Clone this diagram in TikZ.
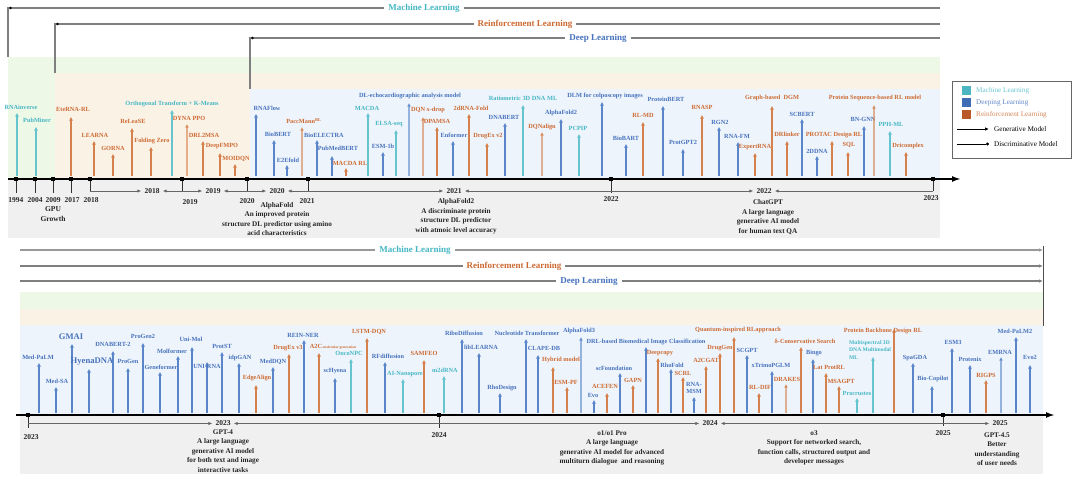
\documentclass[tikz,border=0pt]{standalone}
\usepackage{fontspec}
\setmainfont{Liberation Serif}
\usetikzlibrary{arrows.meta}
\definecolor{mlc}{HTML}{45B7C4}
\definecolor{dlc}{HTML}{4672BD}
\definecolor{rlc}{HTML}{CC6A32}
\definecolor{mls}{HTML}{66C4CF}
\definecolor{dls}{HTML}{5A86C9}
\definecolor{rls}{HTML}{D5814D}
\definecolor{gband}{HTML}{EEF8E7}
\definecolor{oband}{HTML}{FBF2E6}
\definecolor{bband}{HTML}{EEF4FB}
\definecolor{gyband}{HTML}{F0F0F0}
\definecolor{hline}{HTML}{7F7F7F}
\definecolor{lgml}{HTML}{4BB6C2}
\definecolor{lgdl}{HTML}{3E6DB5}
\definecolor{lgrl}{HTML}{B9592A}
% #1 name, #2 x, #3 base y, #4 tip y, #5 label x, #6 label y, #7 kind, #8 text
\newcommand\stm[8]{%
  \coordinate (#1b) at (#2,#3);
  \coordinate (#1t) at (#2,#4);
  \draw[stem#7] (#1b) -- (#1t);
  \node[lab#7] (#1) at (#5,#6) {#8};
}
% bracket: #1 name, #2 x left, #3 x right, #4 y, #5 label x, #6 text
\newcommand\brk[6]{%
  \coordinate (#1l) at (#2,#4);
  \coordinate (#1r) at (#3,#4);
  \node[yrb] (#1) at (#5,#4) {#6};
  \draw[brkline] (#1l) -- (#1.west);
  \draw[brkline] (#1r) -- (#1.east);
}
% tick: #1 name, #2 x, #3 axis y, #4 lower y
\newcommand\tck[4]{%
  \coordinate (#1d) at (#2,#4);
  \draw[tline] (#2,#3) coordinate (#1u) -- (#1d);
  \node[tick] (#1) at (#2,#3) {};
}
\begin{document}
\begin{tikzpicture}[x=1pt,y=-1pt,
  tipA/.tip={Latex[length=3.6pt,width=4.2pt]},
  stemml/.style={draw=mls, line width=1.2pt, -tipA},
  stemdl/.style={draw=dls, line width=1.2pt, -tipA},
  stemrl/.style={draw=rls, line width=1.2pt, -tipA},
  thk/.style={line width=2.2pt, draw opacity=0.6},
  lab/.style={font=\fontsize{6.3}{6.8}\selectfont\bfseries, inner sep=0pt, align=center},
  labml/.style={lab, text=mlc},
  labdl/.style={lab, text=dlc},
  labrl/.style={lab, text=rlc},
  big/.style={font=\fontsize{8.6}{9}\selectfont\bfseries},
  hl/.style={draw=hline, line width=1.2pt},
  hdr/.style={font=\fontsize{9}{10}\selectfont\bfseries, fill=white, inner xsep=4pt, inner ysep=1pt},
  axisl/.style={line width=2pt, -{Latex[length=9pt,width=6pt]}},
  tick/.style={fill=black, rectangle, minimum size=3.6pt, inner sep=0pt},
  tline/.style={draw=black!80, line width=0.9pt},
  yr/.style={font=\fontsize{7.5}{8}\selectfont\bfseries, inner sep=0pt, text=black!85},
  yrb/.style={yr, inner xsep=3pt},
  brkline/.style={draw=black!60, line width=0.9pt, -{Latex[length=4pt,width=3.4pt]}},
  desc/.style={font=\fontsize{7.2}{9.5}\selectfont\bfseries, align=center, inner sep=0pt, anchor=north, text=black!85},
  lgt/.style={font=\fontsize{7.2}{8}\selectfont, inner sep=0pt, anchor=west},
  lsq/.style={rectangle, minimum size=9pt, inner sep=0pt},
  dot/.style={circle, fill=black, inner sep=0pt, minimum size=2.6pt}
]
\useasboundingbox (0,0) rectangle (1080,484);
\fill[white] (0,0) rectangle (1080,484);

%================ TOP PANEL =================
\fill[gband] (8,57) rectangle (940,178);
\fill[oband] (55,73) rectangle (940,178);
\fill[bband] (250,89) rectangle (940,178);
\fill[gyband] (8,179) rectangle (940,238);

% header lines
\coordinate (mlA) at (8,57); \coordinate (mlB) at (8,8); \coordinate (mlC) at (940,8);
\draw[hl] (mlA) -- (mlB) -- (mlC);
\node[dot] (mlS) at (10.5,8) {};
\node[hdr, text=mlc] (mlH) at (424,8) {Machine Learning};
\coordinate (rlA) at (55,73); \coordinate (rlB) at (55,24); \coordinate (rlC) at (940,24);
\draw[hl] (rlA) -- (rlB) -- (rlC);
\node[dot] (rlS) at (57.5,24) {};
\node[hdr, text=rlc] (rlH) at (525,24) {Reinforcement Learning};
\coordinate (dlA) at (250,89); \coordinate (dlB) at (250,38); \coordinate (dlC) at (940,38);
\draw[hl] (dlA) -- (dlB) -- (dlC);
\node[dot] (dlS) at (252.5,38) {};
\node[hdr, text=dlc] (dlH) at (598,38) {Deep Learning};

% stems (top)
\stm{t1}{17}{176}{113}{21}{107}{ml}{RNAinverse}
\stm{t2}{36}{176}{127}{37}{120}{ml}{PubMiner}
\stm{t3}{71}{176}{117}{73}{109}{rl}{EteRNA-RL}
\stm{t4}{94}{176}{141}{95}{135}{rl}{LEARNA}
\stm{t5}{113}{176}{154}{113}{148}{rl}{GORNA}
\stm{t6}{132}{176}{128}{133}{121}{rl}{ReLeaSE}
\stm{t7}{151}{176}{147}{152}{141}{rl}{Folding Zero}
\stm{t8}{172}{176}{110}{172}{104}{ml}{Orthogonal Transform + K-Means}
\stm{t9}{187}{176}{124}{189}{118}{rl,thk}{DYNA PPO}
\stm{t10}{203}{176}{141}{204}{135}{rl}{DRL2MSA}
\stm{t11}{220}{176}{153}{222}{146}{rl}{DeepFMPO}
\stm{t12}{235}{176}{164}{236}{159}{rl}{MOIDQN}
\stm{t13}{256}{176}{114}{267}{108}{dl}{RNAFlow}
\stm{t14}{274}{176}{140}{278}{134}{dl}{BioBERT}
\stm{t15}{287}{176}{165}{288}{160}{dl}{E2Efold}
\stm{t16}{302}{176}{127}{304}{121}{rl,thk}{PaccMann\textsuperscript{RL}}
\stm{t17}{317}{176}{140}{324}{135}{dl}{BioELECTRA}
\stm{t18}{332}{176}{156}{338}{148}{dl}{PubMedBERT}
\stm{t19}{346}{176}{168}{350}{163}{rl}{MACDA RL}
\stm{t20}{368}{176}{113}{367}{108}{ml}{MACDA}
\stm{t21}{409}{176}{103}{410}{96}{dl,thk}{DL-echocardiographic analysis model}
\stm{t22}{396}{176}{130}{389}{124}{ml}{ELSA-seq}
\stm{t23}{383}{176}{152}{383}{146}{dl}{ESM-1b}
\stm{t24}{423}{176}{117}{428}{110}{rl,thk}{DQN x-drop}
\stm{t25}{437}{176}{127}{437}{121}{rl}{DPAMSA}
\stm{t26}{453}{176}{141}{454}{135}{dl}{Enformer}
\stm{t27}{469}{176}{114}{471}{108}{rl}{2dRNA-Fold}
\stm{t28}{487}{176}{143}{488}{136}{rl}{DrugEx v2}
\stm{t29}{505}{176}{123}{504}{117}{dl}{DNABERT}
\stm{t30}{523}{176}{105}{523}{98}{ml}{Ratiometric 3D DNA ML}
\stm{t31}{542}{176}{132}{542}{127}{rl,thk}{DQNalign}
\stm{t32}{561}{176}{119}{561}{113}{dl}{AlphaFold2}
\stm{t33}{579}{176}{134}{578}{128}{ml}{PCPIP}
\stm{t34}{602}{176}{102}{605}{96}{dl}{DLM for colposcopy images}
\stm{t35}{626}{176}{144}{626}{138}{dl}{BioBART}
\stm{t36}{643}{176}{122}{643}{115}{rl}{RL-MD}
\stm{t37}{663}{176}{106}{666}{99}{dl}{ProteinBERT}
\stm{t38}{683}{176}{149}{683}{142}{dl}{ProtGPT2}
\stm{t39}{702}{176}{115}{702}{107}{rl}{RNASP}
\stm{t40}{719}{176}{127}{720}{122}{dl}{RGN2}
\stm{t41}{738}{176}{142}{737}{136}{dl}{RNA-FM}
\stm{t42}{755}{176}{153}{755}{147}{rl}{ExpertRNA}
\stm{t43}{772}{176}{106}{772}{98}{rl}{Graph-based~~DGM}
\stm{t44}{787}{176}{141}{787}{134}{rl}{DRlinker}
\stm{t45}{802}{176}{119}{802}{114}{dl}{SCBERT}
\stm{t46}{832}{176}{141}{834}{135}{rl}{PROTAC Design RL}
\stm{t47}{817}{176}{156}{817}{151}{dl}{2DDNA}
\stm{t48}{848}{176}{152}{849}{145}{rl}{SQL}
\stm{t49}{864}{176}{126}{863}{119}{dl}{BN-GNN}
\stm{t50}{874}{176}{105}{875}{98}{rl,thk}{Protein Sequence-based RL model}
\stm{t51}{890}{176}{131}{891}{124}{ml}{PPH-ML}
\stm{t52}{906}{176}{152}{908}{146}{rl}{Dricomplex}

% axis (top)
\coordinate (axT0) at (8,179); \coordinate (axT1) at (961,179);
\draw[axisl] (axT0) -- (axT1);
\tck{k1994}{16}{179}{193}
\tck{k2004}{35}{179}{193}
\tck{k2009}{53}{179}{193}
\tck{k2017}{71}{179}{193}
\tck{k2018}{90}{179}{191}
\tck{k2019}{182}{179}{191}
\tck{k2020}{247}{179}{191}
\tck{k2021}{308}{179}{191}
\tck{k2022}{611}{179}{193}
\tck{k2023}{933}{179}{191}
\brk{b18}{90}{182}{191}{152}{2018}
\brk{b19}{182}{247}{191}{213}{2019}
\brk{b20}{247}{308}{191}{277}{2020}
\brk{b21}{308}{611}{191}{454}{2021}
\brk{b22}{611}{933}{191}{764}{2022}
\node[yr] (y1994) at (16,200) {1994};
\node[yr] (y2004) at (35,200) {2004};
\node[yr] (y2009) at (53,200) {2009};
\node[yr] (y2017) at (72,200) {2017};
\node[yr] (y2018) at (91,200) {2018};
\node[yr, align=center, font=\fontsize{7.5}{9.8}\selectfont\bfseries] (gpu) at (53,214) {GPU\\Growth};
\node[yr] (y2019) at (190,202) {2019};
\node[yr] (y2020) at (247,201) {2020};
\node[yr] (y2021) at (307,201) {2021};
\node[yr] (y2022) at (611,199) {2022};
\node[yr] (y2023) at (931,198) {2023};
\node[desc] (dAF) at (277,202) {AlphaFold\\An improved protein\\structure DL predictor using amino\\acid characteristics};
\node[desc] (dAF2) at (456,198.5) {AlphaFold2\\A discriminate protein\\structure DL predictor\\with atmoic level accuracy};
\node[desc] (dGPT) at (768,199.5) {ChatGPT\\A large language\\generative AI model\\for human text QA};

% legend
\node[draw=black!60, line width=0.8pt, fill=white, minimum width=119pt, minimum height=77pt, inner sep=0pt] (legend) at (1011.5,119.5) {};
\node[lsq, fill=lgml] (lq1) at (966.5,90.5) {};
\node[lsq, fill=lgdl] (lq2) at (966.5,102.5) {};
\node[lsq, fill=lgrl] (lq3) at (966.5,114.5) {};
\node[lgt, text=mlc!80] (lt1) at (976,90.5) {Machine Learning};
\node[lgt, text=dlc!85] (lt2) at (976,102.5) {Deeping Learning};
\node[lgt, text=rlc!80] (lt3) at (976,114.5) {Reinforcement Learning};
\coordinate (la1) at (957,129);
\node[lgt] (lt4) at (994,129) {Generative Model};
\draw[line width=0.8pt, -{Latex[length=4pt,width=3.5pt]}, shorten >=5pt] (la1) -- (lt4.west);
\coordinate (la2) at (957,144);
\node[lgt] (lt5) at (994,144) {Discriminative Model};
\draw[line width=0.8pt, -{Circle[length=3pt]}, shorten >=5pt] (la2) -- (lt5.west);

%================ BOTTOM PANEL =================
\fill[gband] (20,292) rectangle (1043,309);
\fill[oband] (20,309) rectangle (1043,325);
\fill[bband] (20,325) rectangle (1043,415);
\fill[gyband] (20,415) rectangle (1043,474);

\coordinate (BmlA) at (20,250); \coordinate (BmlB) at (1043,250);
\coordinate (BrlA) at (20,266); \coordinate (BrlB) at (1043,266);
\coordinate (BdlA) at (20,281); \coordinate (BdlB) at (1043,281);
\coordinate (BvA) at (1043,246); \coordinate (BvB) at (1043,326);
\draw[hl, line width=1.7pt, draw=black!40, -{Latex[length=4pt,width=3.5pt]}] (BmlA) -- (BmlB);
\draw[hl, -{Latex[length=4pt,width=3.5pt]}] (BrlA) -- (BrlB);
\draw[hl, -{Latex[length=4pt,width=3.5pt]}] (BdlA) -- (BdlB);
\draw[draw=black!70, line width=1pt] (BvA) -- (BvB);
\node[hdr, text=mlc] (BmlH) at (415,250) {Machine Learning};
\node[hdr, text=rlc] (BrlH) at (514,266) {Reinforcement Learning};
\node[hdr, text=dlc] (BdlH) at (589,281) {Deep Learning};

\stm{b1}{39}{413}{363}{38}{357}{dl}{Med-PaLM}
\stm{b2}{56}{413}{387}{57}{381}{dl}{Med-SA}
\stm{b3}{72}{413}{344}{71}{337}{dl,big}{GMAI}
\stm{b4}{89}{413}{369}{92}{362}{dl,big}{HyenaDNA}
\stm{b5}{113}{413}{351}{113}{344}{dl}{DNABERT-2}
\stm{b6}{128}{413}{368}{128}{361}{dl}{ProGen}
\stm{b7}{143}{413}{343}{143}{336}{dl}{ProGen2}
\stm{b8}{160}{413}{372}{161}{367}{dl}{Geneformer}
\stm{b9}{178}{413}{356}{172}{351}{dl}{Molformer}
\stm{b10}{192}{413}{347}{191}{339}{dl}{Uni-Mol}
\stm{b11}{207}{413}{362}{207}{366}{dl}{UNI-RNA}
\stm{b12}{222}{413}{352}{222}{346}{dl}{ProtST}
\stm{b13}{239}{413}{363}{240}{358}{dl}{idpGAN}
\stm{b14}{256}{413}{385}{257}{378}{rl}{EdgeAlign}
\stm{b15}{273}{413}{367}{273}{362}{dl}{MedDQN}
\stm{b16}{289}{413}{354}{288}{348}{rl}{DrugEx v3}
\stm{b17}{304}{413}{340}{303}{335}{dl}{REIN-NER}
\stm{b18}{319}{413}{353}{333}{347}{rl}{A2C{\fontsize{3.6}{4}\selectfont -molecular generation}}
\stm{b19}{335}{413}{378}{335}{371}{dl}{scHyena}
\stm{b20}{351}{413}{359}{349}{353}{ml}{OncoNPC}
\stm{b21}{367}{413}{338}{369}{332}{rl}{LSTM-DQN}
\stm{b22}{385}{413}{362}{388}{356}{dl}{RFdiffusion}
\stm{b23}{403}{413}{379}{405}{374}{ml}{AI-Nanopore}
\stm{b24}{424}{413}{360}{424}{353}{rl}{SAMFEO}
\stm{b25}{444}{413}{376}{445}{370}{ml}{m2dRNA}
\stm{b26}{462}{413}{339}{464}{333}{dl}{RiboDiffusion}
\stm{b27}{479}{413}{353}{481}{347}{dl}{libLEARNA}
\stm{b28}{500}{413}{393}{502}{388}{dl}{RhoDesign}
\stm{b29}{526}{413}{339}{527}{333}{dl}{Nucleotide Transformer}
\stm{b30}{538}{413}{355}{544}{348}{dl}{CLAPE-DB}
\stm{b31}{553}{413}{367}{561}{360}{rl}{Hybrid model}
\stm{b32}{581}{413}{337}{579}{331}{dl,thk}{AlphaFold3}
\stm{b33}{567}{413}{387}{566}{382}{rl}{ESM-PF}
\stm{b34}{646}{413}{347}{646}{342}{dl}{DRL-based Biomedical Image Classification}
\stm{b35}{594}{413}{400}{593}{395}{dl}{Evo}
\stm{b36}{607}{413}{393}{605}{386}{rl}{ACEFEN}
\stm{b37}{620}{413}{373}{614}{368}{dl}{scFoundation}
\stm{b38}{633}{413}{385}{633}{380}{rl}{GAPN}
\stm{b39}{658}{413}{358}{660}{353}{rl}{Deepcopy}
\stm{b40}{671}{413}{369}{672}{365}{dl}{RhoFold}
\stm{b41}{683}{413}{377}{683}{373}{rl}{SCRL}
\stm{b42}{694}{413}{397}{694}{388}{dl}{RNA-\\MSM}
\stm{b43}{706}{413}{366}{706}{360}{rl}{A2CGAT}
\stm{b44}{720}{413}{353}{720}{348}{rl}{DrugGen}
\stm{b45}{734}{413}{337}{738}{330}{rl}{Quantum-inspired RLapproach}
\stm{b46}{747}{413}{355}{747}{350}{dl}{SCGPT}
\stm{b47}{772}{413}{371}{771}{365}{dl}{xTrimoPGLM}
\stm{b48}{759}{413}{393}{760}{387}{rl}{RL-DIF}
\stm{b49}{786}{413}{384}{787}{379}{rl,thk}{DRAKES}
\stm{b50}{801}{413}{347}{805}{341}{rl}{δ-Conservative Search}
\stm{b51}{813}{413}{359}{814}{353}{dl}{Bingo}
\stm{b52}{826}{413}{373}{829}{367}{rl}{Lat ProtRL}
\stm{b53}{839}{413}{386}{841}{381}{rl}{MSAGPT}
\stm{b54}{857}{413}{398}{857}{393}{ml}{Procrustes}
\coordinate (b55b) at (873,413); \coordinate (b55t) at (873,357);
\draw[stemml] (b55b) -- (b55t);
\node[labml, align=left, anchor=north west, font=\fontsize{5.6}{7.4}\selectfont\bfseries] (b55) at (849,340.5) {Multispectral 3D\\DNA Multimodal\\ML};
\stm{b56}{894}{413}{329}{883}{331}{rl}{Protein Backbone Design RL}
\stm{b57}{913}{413}{363}{915}{358}{dl}{SpaGDA}
\stm{b58}{932}{413}{386}{933}{379}{dl}{Bio-Copilot}
\stm{b59}{952}{413}{348}{953}{342}{dl}{ESM3}
\stm{b60}{970}{413}{365}{970}{359}{dl}{Protenix}
\stm{b61}{986}{413}{380}{986}{375}{rl}{RIGPS}
\stm{b62}{1001}{413}{357}{1000}{352}{dl,thk}{EMRNA}
\stm{b63}{1016}{413}{337}{1015}{331}{dl}{Med-PaLM2}
\stm{b64}{1030}{413}{365}{1030}{357}{dl}{Evo2}

% axis (bottom)
\coordinate (axB0) at (16,415); \coordinate (axB1) at (1055,415);
\draw[axisl] (axB0) -- (axB1);
\tck{c2023}{28}{415}{428}
\tck{c2024}{439}{415}{428}
\tck{c2025}{943}{415}{426}
\brk{d23}{28}{439}{423.5}{223}{2023}
\brk{d24}{439}{943}{423.5}{710}{2024}
\coordinate (d25l) at (943,423.5);
\node[yrb] (d25) at (1000,423.5) {2025};
\draw[brkline] (d25l) -- (d25.west);
\node[yr] (z2023) at (31,437) {2023};
\node[yr] (z2024) at (439,435) {2024};
\node[yr] (z2025) at (943,433) {2025};
\node[desc] (dG4) at (223,429.5) {GPT-4\\A large language\\generative AI model\\for both text and image\\interactive tasks};
\node[desc] (dO1) at (612,430.5) {o1/o1 Pro\\A large language\\generative AI model for advanced\\multiturn dialogue~ and reasoning};
\node[desc] (dO3) at (814,430.5) {o3\\Support for networked search,\\function calls, structured output and\\developer messages};
\node[desc] (dG45) at (997,432.5) {GPT-4.5\\Better\\understanding\\of user needs};
\end{tikzpicture}
\end{document}
